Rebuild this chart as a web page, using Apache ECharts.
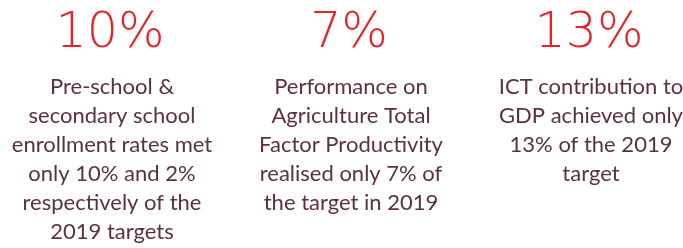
<!DOCTYPE html>
<html>
<head>
<meta charset="utf-8">
<script src="https://cdn.jsdelivr.net/npm/echarts@6/dist/echarts.min.js"></script>
<style>
  html, body { margin: 0; padding: 0; background: #ffffff; }
  #chart { width: 683px; height: 248px; }
</style>
</head>
<body>
<div id="chart"></div>
<script>
// headline figures and the text under each
const figures = ["10%", "7%", "13%"];
const descriptions = [
  ["Pre-school &", "secondary school", "enrollment rates met", "only 10% and 2%", "respectively of the", "2019 targets"],
  ["Performance on", "Agriculture Total", "Factor Productivity", "realised only 7% of", "the target in 2019"],
  ["ICT contribution to", "GDP achieved only", "13% of the 2019", "target"]
];

const chart = echarts.init(document.getElementById("chart"));

const colCenters = [110, 349, 589];
const elements = [];

figures.forEach((fig, i) => {
  elements.push({
    type: "text",
    x: colCenters[i],
    y: 10,
    style: {
      text: fig,
      fill: "#e6222b",
      font: "200 49px 'DejaVu Sans'",
      textAlign: "center",
      textVerticalAlign: "top"
    }
  });
  elements.push({
    type: "text",
    x: colCenters[i] + 2,
    y: 72,
    style: {
      text: descriptions[i].join("\n"),
      fill: "#5c2f45",
      font: "22px Lato",
      lineHeight: 29,
      textAlign: "center",
      textVerticalAlign: "top"
    }
  });
});

chart.setOption({
  backgroundColor: "#ffffff",
  graphic: { elements: elements }
});

window.addEventListener("resize", () => chart.resize());
</script>
</body>
</html>
